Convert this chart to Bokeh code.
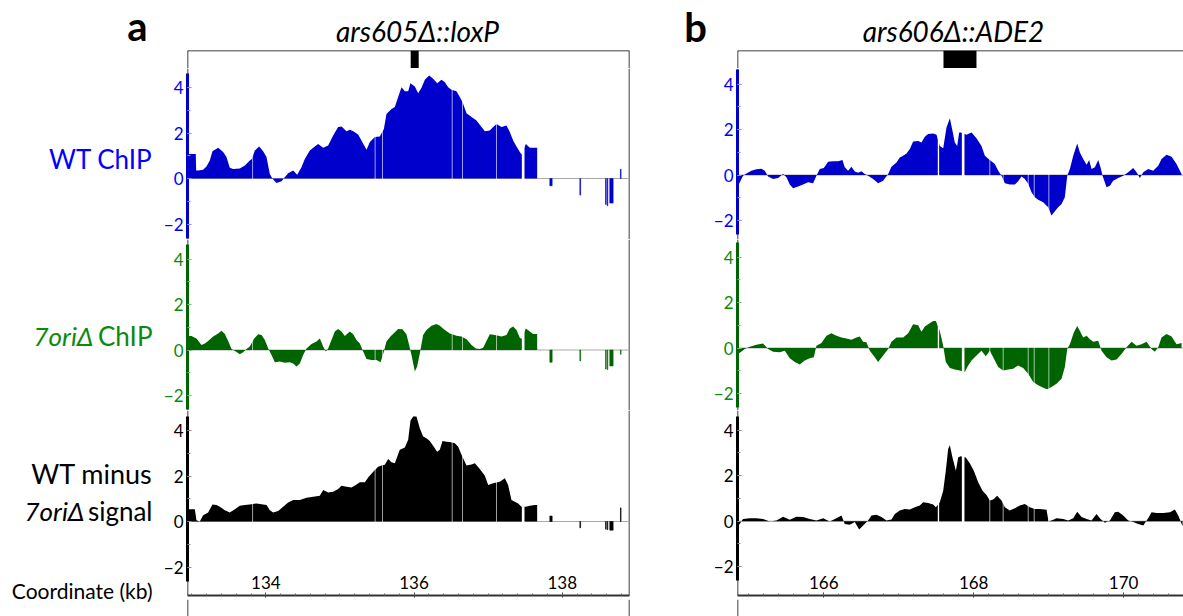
from bokeh.plotting import figure
from bokeh.layouts import row, column
from bokeh.models import Range1d, Span, Label, BoxAnnotation, SingleIntervalTicker
from bokeh.embed import file_html
from bokeh.resources import INLINE

# ---------------- data (kb, signal) ----------------
# panel a : ars605Δ::loxP
A_BLUE = [(132.952, 1.08), (133.055, 1.08), (133.060, 0.35), (133.087, 0.35), (133.154, 0.38), (133.199, 0.53),
          (133.244, 0.79), (133.280, 1.20), (133.357, 1.35), (133.424, 1.16), (133.469, 0.94), (133.514, 0.47),
          (133.559, 0.42), (133.649, 0.44), (133.717, 0.57), (133.784, 0.79), (133.811, 0.86), (133.852, 1.23),
          (133.910, 1.41), (133.964, 1.20), (134.009, 0.94), (134.054, 0.20), (134.090, -0.01), (134.144, -0.20),
          (134.212, -0.12), (134.256, 0.06), (134.301, 0.23), (134.369, 0.35), (134.423, 0.16), (134.481, 0.50),
          (134.526, 0.86), (134.594, 1.23), (134.661, 1.41), (134.706, 1.52), (134.774, 1.35), (134.841, 1.45),
          (134.909, 1.89), (134.976, 2.26), (135.021, 2.29), (135.089, 2.08), (135.134, 2.14), (135.179, 2.08),
          (135.246, 1.93), (135.291, 1.67), (135.359, 1.26), (135.404, 1.60), (135.471, 1.82), (135.538, 1.85),
          (135.593, 2.18), (135.628, 2.84), (135.696, 3.06), (135.741, 3.14), (135.786, 3.58), (135.831, 4.01),
          (135.876, 3.84), (135.921, 3.84), (135.952, 4.19), (136.011, 4.04), (136.056, 3.75), (136.101, 3.99),
          (136.146, 4.34), (136.204, 4.53), (136.258, 4.38), (136.312, 4.19), (136.371, 4.34), (136.416, 4.23),
          (136.461, 4.01), (136.506, 3.90), (136.573, 3.84), (136.618, 3.58), (136.654, 3.36), (136.708, 2.87),
          (136.776, 2.70), (136.843, 2.55), (136.911, 2.26), (136.956, 2.08), (137.023, 2.11), (137.068, 2.26),
          (137.113, 2.40), (137.181, 2.26), (137.248, 2.33), (137.293, 2.04), (137.338, 1.67), (137.383, 1.41),
          (137.428, 1.16), (137.450, 1.05), (137.509, 1.52), (137.563, 1.35), (137.630, 1.35), (137.662, 1.35)]
A_GREEN = [(132.952, 0.62), (132.997, 0.62), (133.064, 0.51), (133.132, 0.22), (133.177, 0.29), (133.222, 0.40),
           (133.289, 0.59), (133.357, 0.73), (133.402, 0.85), (133.447, 0.70), (133.492, 0.40), (133.537, 0.04),
           (133.595, -0.07), (133.649, -0.19), (133.694, -0.10), (133.739, 0.04), (133.784, 0.15), (133.843, 0.51),
           (133.897, 0.69), (133.942, 0.66), (133.987, 0.44), (134.032, 0.07), (134.077, -0.22), (134.122, -0.54),
           (134.189, -0.51), (134.256, -0.56), (134.324, -0.54), (134.369, -0.59), (134.414, -0.73), (134.459, -0.59),
           (134.504, -0.22), (134.549, 0.07), (134.616, 0.26), (134.684, 0.37), (134.729, 0.51), (134.774, 0.15),
           (134.810, -0.07), (134.841, 0.07), (134.886, 0.44), (134.931, 0.81), (134.976, 0.92), (135.021, 0.81),
           (135.066, 0.62), (135.134, 0.81), (135.179, 0.69), (135.224, 0.44), (135.269, 0.29), (135.314, -0.07),
           (135.359, -0.40), (135.426, -0.44), (135.494, -0.44), (135.548, -0.54), (135.583, -0.19), (135.628, 0.37),
           (135.682, 0.59), (135.741, 0.78), (135.786, 0.92), (135.844, 0.91), (135.898, 0.69), (135.934, 0.22),
           (135.966, -0.22), (136.011, -0.95), (136.042, -0.73), (136.078, -0.15), (136.123, 0.66), (136.168, 0.88),
           (136.236, 1.07), (136.303, 1.14), (136.348, 1.07), (136.416, 0.88), (136.483, 0.73), (136.573, 0.63),
           (136.641, 0.59), (136.708, 0.47), (136.776, 0.22), (136.834, 0.07), (136.888, 0.04), (136.933, 0.10),
           (136.978, 0.40), (137.023, 0.69), (137.090, 0.66), (137.181, 0.59), (137.248, 0.66), (137.293, 0.95),
           (137.338, 1.03), (137.383, 0.88), (137.428, 0.54), (137.450, 0.48), (137.509, 0.95), (137.563, 0.81),
           (137.608, 0.70), (137.662, 0.70)]
A_BLACK = [(132.952, 0.54), (133.042, 0.54), (133.064, 0.06), (133.109, 0.00), (133.154, 0.28), (133.222, 0.40),
           (133.280, 0.75), (133.334, 0.72), (133.379, 0.65), (133.447, 0.50), (133.514, 0.40), (133.582, 0.54),
           (133.649, 0.69), (133.717, 0.72), (133.784, 0.75), (133.874, 0.79), (133.942, 0.76), (134.009, 0.72),
           (134.054, 0.50), (134.099, 0.40), (134.167, 0.46), (134.234, 0.65), (134.301, 0.84), (134.369, 0.94),
           (134.459, 0.94), (134.549, 1.04), (134.639, 1.09), (134.729, 1.13), (134.774, 1.38), (134.841, 1.28),
           (134.909, 1.31), (134.976, 1.43), (135.021, 1.57), (135.089, 1.53), (135.156, 1.49), (135.224, 1.63),
           (135.269, 1.72), (135.336, 1.72), (135.381, 1.93), (135.449, 2.19), (135.516, 2.41), (135.561, 2.46),
           (135.606, 2.49), (135.651, 2.75), (135.696, 2.60), (135.741, 2.56), (135.808, 3.15), (135.876, 3.25),
           (135.921, 3.59), (135.952, 4.43), (135.988, 4.62), (136.033, 4.62), (136.078, 4.10), (136.123, 3.74),
           (136.168, 3.66), (136.213, 3.54), (136.267, 3.29), (136.312, 3.07), (136.348, 3.15), (136.384, 3.54),
           (136.438, 3.51), (136.483, 3.49), (136.551, 3.44), (136.596, 3.29), (136.641, 2.93), (136.708, 2.46),
           (136.776, 2.51), (136.821, 2.56), (136.888, 2.31), (136.956, 2.01), (137.001, 1.60), (137.068, 1.68),
           (137.158, 1.75), (137.226, 1.90), (137.270, 1.60), (137.315, 0.94), (137.360, 0.87), (137.405, 0.79),
           (137.450, 0.65), (137.509, 0.65), (137.563, 0.69), (137.630, 0.72), (137.662, 0.72)]
A_TAIL_START = [137.833, 138.238, 138.585, 138.607, 138.642, 138.786]
A_TAIL_END = [137.864, 138.248, 138.593, 138.615, 138.687, 138.794]
A_TAIL_BLUE = [-0.32, -0.73, -1.14, -1.20, -1.08, 0.41]
A_TAIL_GREEN = [-0.54, -0.48, -0.84, -0.86, -0.70, -0.19]
A_TAIL_BLACK = [0.24, -0.28, -0.34, -0.36, -0.38, 0.60]
A_GAP_START = [133.816, 135.469, 135.569, 136.509, 136.648, 137.107, 137.455]
A_GAP_END = [133.828, 135.481, 135.581, 136.521, 136.660, 137.119, 137.491]
A_ARS = (135.955, 136.063)

# panel b : ars606Δ::ADE2
B_BLUE = [(164.857, -0.47), (164.923, -0.03), (164.968, 0.07), (165.035, 0.19), (165.101, 0.25), (165.168, 0.28),
          (165.213, 0.19), (165.257, -0.07), (165.324, -0.18), (165.391, -0.13), (165.457, 0.04), (165.502, -0.10),
          (165.546, -0.42), (165.591, -0.58), (165.657, -0.51), (165.724, -0.42), (165.791, -0.32), (165.858, -0.36),
          (165.902, -0.03), (165.947, 0.26), (166.000, 0.31), (166.058, 0.58), (166.125, 0.60), (166.191, 0.60),
          (166.249, 0.66), (166.280, 0.34), (166.325, 0.19), (166.369, 0.36), (166.414, 0.15), (166.458, 0.10),
          (166.503, 0.16), (166.547, 0.04), (166.592, -0.03), (166.658, -0.18), (166.725, -0.36), (166.792, -0.25),
          (166.859, 0.04), (166.903, 0.36), (166.970, 0.55), (167.014, 0.77), (167.059, 0.85), (167.103, 0.95),
          (167.148, 1.14), (167.192, 1.47), (167.259, 1.50), (167.303, 1.43), (167.348, 1.68), (167.392, 1.80),
          (167.459, 1.82), (167.504, 1.77), (167.548, 1.28), (167.593, 1.18), (167.637, 2.09), (167.682, 2.50),
          (167.717, 1.94), (167.748, 1.43), (167.780, 1.28), (167.806, 1.87), (167.829, 1.87), (167.904, 1.77),
          (167.971, 1.87), (168.037, 1.62), (168.104, 1.28), (168.149, 0.85), (168.215, 0.66), (168.282, 0.48),
          (168.327, 0.19), (168.371, -0.03), (168.416, -0.36), (168.482, -0.42), (168.549, -0.42), (168.593, -0.28),
          (168.638, -0.07), (168.682, -0.18), (168.727, -0.39), (168.771, -0.76), (168.816, -0.98), (168.860, -1.09),
          (168.927, -1.20), (168.994, -1.42), (169.038, -1.78), (169.083, -1.59), (169.127, -1.42), (169.172, -1.27),
          (169.216, -0.98), (169.248, -0.03), (169.283, 0.26), (169.328, 0.85), (169.381, 1.39), (169.417, 0.99),
          (169.461, 0.70), (169.506, 0.45), (169.541, 0.66), (169.572, 0.26), (169.617, 0.34), (169.661, 0.66),
          (169.692, 0.34), (169.719, -0.03), (169.772, -0.54), (169.817, -0.47), (169.861, -0.25), (169.928, -0.13),
          (169.995, -0.03), (170.061, 0.12), (170.128, 0.31), (170.173, 0.12), (170.217, -0.13), (170.262, 0.12),
          (170.328, 0.26), (170.395, 0.19), (170.462, 0.41), (170.506, 0.70), (170.573, 0.89), (170.640, 0.80),
          (170.706, 0.48), (170.773, 0.04)]
B_GREEN = [(164.857, -0.26), (164.946, -0.04), (165.012, 0.06), (165.101, 0.14), (165.190, 0.20), (165.257, -0.04),
           (165.324, -0.16), (165.413, -0.19), (165.480, -0.12), (165.546, -0.45), (165.613, -0.62), (165.680, -0.72),
           (165.746, -0.55), (165.813, -0.45), (165.867, -0.41), (165.902, 0.10), (165.969, 0.22), (166.036, 0.54),
           (166.102, 0.65), (166.169, 0.54), (166.236, 0.46), (166.302, 0.42), (166.369, 0.36), (166.436, 0.46),
           (166.480, 0.51), (166.525, 0.28), (166.569, 0.25), (166.614, -0.12), (166.681, -0.41), (166.725, -0.62),
           (166.792, -0.33), (166.859, -0.04), (166.903, 0.28), (166.970, 0.46), (167.059, 0.46), (167.126, 0.65),
           (167.192, 1.04), (167.259, 1.00), (167.303, 0.71), (167.348, 0.94), (167.392, 1.04), (167.459, 1.19),
           (167.495, 1.19), (167.548, 0.75), (167.593, 0.10), (167.628, -0.62), (167.682, -0.88), (167.748, -0.94),
           (167.815, -0.99), (167.882, -1.06), (167.926, -0.77), (167.971, -0.55), (168.037, -0.33), (168.104, -0.12),
           (168.162, -0.36), (168.215, -0.12), (168.260, -0.41), (168.327, -0.84), (168.393, -0.99), (168.460, -0.94),
           (168.527, -0.91), (168.593, -0.77), (168.660, -0.88), (168.727, -1.13), (168.794, -1.49), (168.860, -1.64),
           (168.927, -1.75), (168.981, -1.81), (169.038, -1.71), (169.105, -1.57), (169.172, -1.35), (169.216, -0.84),
           (169.248, -0.04), (169.283, 0.17), (169.336, 0.68), (169.381, 0.97), (169.417, 0.75), (169.461, 0.46),
           (169.506, 0.54), (169.550, 0.39), (169.595, 0.28), (169.661, 0.32), (169.706, -0.12), (169.772, -0.41),
           (169.839, -0.55), (169.906, -0.51), (169.972, -0.26), (170.039, 0.03), (170.106, 0.28), (170.173, 0.10),
           (170.239, 0.17), (170.306, 0.28), (170.373, -0.04), (170.417, -0.16), (170.462, 0.03), (170.506, 0.46),
           (170.573, 0.61), (170.640, 0.51), (170.706, 0.17), (170.773, 0.22)]
B_BLACK = [(164.857, -0.22), (164.923, 0.10), (165.012, 0.13), (165.101, 0.13), (165.190, 0.10), (165.279, -0.01),
           (165.368, 0.03), (165.457, 0.20), (165.546, 0.06), (165.635, 0.20), (165.724, 0.18), (165.813, 0.10),
           (165.902, 0.03), (165.991, 0.13), (166.080, -0.01), (166.169, 0.13), (166.236, 0.25), (166.280, -0.12),
           (166.347, -0.16), (166.414, -0.04), (166.472, -0.36), (166.525, -0.19), (166.592, 0.03), (166.636, 0.25),
           (166.703, 0.28), (166.770, 0.18), (166.836, 0.03), (166.903, 0.07), (166.948, 0.32), (167.014, 0.47),
           (167.081, 0.54), (167.148, 0.51), (167.215, 0.61), (167.281, 0.69), (167.326, 0.83), (167.392, 0.80),
           (167.459, 0.73), (167.495, 0.61), (167.548, 0.83), (167.593, 1.34), (167.628, 2.22), (167.659, 3.17),
           (167.682, 3.34), (167.717, 2.80), (167.762, 2.22), (167.793, 2.80), (167.824, 2.85), (167.895, 2.80),
           (167.948, 2.55), (168.002, 2.22), (168.060, 1.71), (168.118, 1.34), (168.171, 1.15), (168.215, 0.91),
           (168.260, 0.95), (168.313, 1.12), (168.371, 0.91), (168.416, 0.61), (168.482, 0.47), (168.549, 0.57),
           (168.616, 0.69), (168.682, 0.76), (168.749, 0.61), (168.816, 0.54), (168.883, 0.54), (168.972, 0.50),
           (168.998, 0.00), (169.038, 0.03), (169.105, 0.13), (169.194, 0.10), (169.261, 0.03), (169.328, 0.13),
           (169.381, 0.42), (169.439, 0.18), (169.506, 0.10), (169.572, 0.03), (169.639, 0.32), (169.692, 0.10),
           (169.750, -0.07), (169.817, 0.03), (169.883, 0.39), (169.928, 0.42), (169.995, 0.25), (170.061, 0.03),
           (170.128, -0.04), (170.195, -0.12), (170.262, -0.19), (170.328, 0.13), (170.373, 0.39), (170.440, 0.36),
           (170.529, 0.36), (170.618, 0.39), (170.684, 0.51), (170.729, 0.25), (170.787, -0.22)]
B_GAP_START = [167.521, 167.842, 168.209, 168.387, 168.721, 168.801, 168.997]
B_GAP_END = [167.539, 167.877, 168.221, 168.399, 168.733, 168.813, 169.009]
B_ARS = (167.597, 168.037)

TITLES = ["ars605Δ::loxP", "ars606Δ::ADE2"]
PANEL_LETTERS = ["a", "b"]

# ---------------- layout / style ----------------
FONT = "Lato"
PX_PER_UNIT = 22.75
LABEL_W, A_W, B_W = 155, 550, 478
A_BL, A_BR, B_BL, B_BR = 32, 76, 32, 0
HEADER_H, MARK_H, BLUE_H, GREEN_H = 50, 18, 171, 171
BLACK_FRAME_H, BLACK_BB, FILL_H = 185, 4, 17
XA = Range1d(132.943, 138.908)
XB = Range1d(164.849, 170.799)
BAR_BOUNDS = (-2.62, 4.62)

BLUE_FILL, GREEN_FILL, BLACK_FILL = "#0000cc", "#006400", "#000000"
BLUE_TXT, GREEN_TXT, BLACK_TXT = "#0000ff", "#0b8a0b", "#000000"
BLUE_TICK, GREEN_TICK, BLACK_TICK = "#8c8cff", "#7fb57f", "#8c8c8c"


def base(width, height, xr, yr, bl, br, bt=0, bb=0, xloc=None, yloc=None):
    p = figure(width=width, height=height, x_range=xr, y_range=yr,
               output_backend="svg", toolbar_location=None, tools="",
               min_border_left=bl, min_border_right=br, min_border_top=bt, min_border_bottom=bb,
               x_axis_location=xloc, y_axis_location=yloc)
    p.grid.visible = False
    p.outline_line_color = None
    p.background_fill_color = "white"
    p.border_fill_color = "white"
    return p


def edges(p, xr, right, top=False):
    p.add_layout(Span(location=xr.start, dimension="height", line_color="black",
                      line_width=1.5, level="underlay"))
    if right:
        p.add_layout(Span(location=xr.end, dimension="height", line_color="black",
                          line_width=1.5, level="underlay"))
    if top:
        p.add_layout(Span(location=p.y_range.end, dimension="width", line_color="black",
                          line_width=1.5, level="underlay"))


def marker(xr, w, bl, br, ars, right):
    p = base(w, MARK_H, xr, Range1d(0, 1), bl, br)
    edges(p, xr, right, top=True)
    p.quad(left=[ars[0]], right=[ars[1]], bottom=0, top=1, fill_color="black", line_color=None)
    return p


def filler(xr, w, bl, br, right):
    p = base(w, FILL_H, xr, Range1d(0, 1), bl, br)
    edges(p, xr, right)
    return p


def track(xr, w, bl, br, frame_h, zero_px, pts, fill, txt, tick, gs, ge, right, tail=None, coord=False):
    yr = Range1d(-(frame_h - zero_px) / PX_PER_UNIT, zero_px / PX_PER_UNIT)
    bb = BLACK_BB if coord else 0
    p = base(w, frame_h + bb, xr, yr, bl, br, bb=bb, yloc="left", xloc="below" if coord else None)
    edges(p, xr, right)
    p.add_layout(Span(location=0, dimension="width", line_color="#a8a8a8", line_width=1, level="underlay"))
    xs, ys = zip(*pts)
    p.varea(x=list(xs), y1=0, y2=list(ys), fill_color=fill)
    if tail is not None:
        p.quad(left=tail[0], right=tail[1], bottom=0, top=tail[2],
               fill_color=fill, line_color=fill, line_width=0.6)
    lo, hi = min(0, min(ys)) - 0.15, max(ys) + 0.15
    for s, e in zip(gs, ge):
        p.add_layout(BoxAnnotation(left=s, right=e, bottom=lo, top=hi, fill_color="white",
                                   fill_alpha=1.0 if e - s > 0.015 else 0.7, line_color=None))
    ax = p.yaxis[0]
    ax.bounds = BAR_BOUNDS
    ax.ticker = SingleIntervalTicker(interval=2, num_minor_ticks=2)
    ax.axis_line_color = fill
    ax.axis_line_width = 3
    ax.major_tick_in, ax.major_tick_out = 4, 0
    ax.minor_tick_in, ax.minor_tick_out = 3, 0
    ax.major_tick_line_color = tick
    ax.minor_tick_line_color = tick
    ax.major_label_text_color = txt
    ax.major_label_text_font = FONT
    ax.major_label_text_font_size = "17px"
    ax.major_label_standoff = 4
    if coord:
        cx = p.xaxis[0]
        cx.ticker = SingleIntervalTicker(interval=2, num_minor_ticks=10)
        cx.axis_line_color = "#333333"
        cx.axis_line_width = 2
        cx.major_tick_in, cx.major_tick_out = 3, 2
        cx.minor_tick_in, cx.minor_tick_out = 2, 0
        cx.major_tick_line_color = "#333333"
        cx.minor_tick_line_color = "#666666"
        cx.major_label_text_font = FONT
        cx.major_label_text_font_size = "17px"
        cx.major_label_text_color = "black"
        cx.major_label_standoff = -22
    return p


def txt(p, x, y, s, color, size, style="normal", align="right"):
    p.add_layout(Label(x=x, y=y, text=s, text_color=color, text_font=FONT, text_font_size=size,
                       text_font_style=style, text_align=align, text_baseline="middle"))


# panel a column
col_a = column(
    marker(XA, A_W, A_BL, A_BR, A_ARS, True),
    track(XA, A_W, A_BL, A_BR, BLUE_H, 110, A_BLUE, BLUE_FILL, BLUE_TXT, BLUE_TICK,
          A_GAP_START, A_GAP_END, True, (A_TAIL_START, A_TAIL_END, A_TAIL_BLUE)),
    track(XA, A_W, A_BL, A_BR, GREEN_H, 110.5, A_GREEN, GREEN_FILL, GREEN_TXT, GREEN_TICK,
          A_GAP_START, A_GAP_END, True, (A_TAIL_START, A_TAIL_END, A_TAIL_GREEN)),
    track(XA, A_W, A_BL, A_BR, BLACK_FRAME_H, 111, A_BLACK, BLACK_FILL, BLACK_TXT, BLACK_TICK,
          A_GAP_START, A_GAP_END, True, (A_TAIL_START, A_TAIL_END, A_TAIL_BLACK), coord=True),
    filler(XA, A_W, A_BL, A_BR, True),
)
# panel b column
col_b = column(
    marker(XB, B_W, B_BL, B_BR, B_ARS, False),
    track(XB, B_W, B_BL, B_BR, BLUE_H, 106.5, B_BLUE, BLUE_FILL, BLUE_TXT, BLUE_TICK,
          B_GAP_START, B_GAP_END, False),
    track(XB, B_W, B_BL, B_BR, GREEN_H, 108.5, B_GREEN, GREEN_FILL, GREEN_TXT, GREEN_TICK,
          B_GAP_START, B_GAP_END, False),
    track(XB, B_W, B_BL, B_BR, BLACK_FRAME_H, 110.7, B_BLACK, BLACK_FILL, BLACK_TXT, BLACK_TICK,
          B_GAP_START, B_GAP_END, False, coord=True),
    filler(XB, B_W, B_BL, B_BR, False),
)

# left labels (coordinates: pixels from the column's top-left)
LAB_H = 616 - HEADER_H
lab = base(LABEL_W, LAB_H, Range1d(0, LABEL_W), Range1d(LAB_H, 0), 0, 0)
txt(lab, 152, 108, "WT ChIP", BLUE_TXT, "26px")
txt(lab, 152, 285, "ChIP", GREEN_TXT, "26px")
txt(lab, 93, 285, "7oriΔ", GREEN_TXT, "26px", "italic")
txt(lab, 152, 423, "WT minus", BLACK_TXT, "27px")
txt(lab, 152, 460, "signal", BLACK_TXT, "26px")
txt(lab, 84, 460, "7oriΔ", BLACK_TXT, "26px", "italic")
txt(lab, 152, 540, "Coordinate (kb)", BLACK_TXT, "21px")

# header
HDR_W = LABEL_W + A_W + B_W
hdr = base(HDR_W, HEADER_H, Range1d(0, HDR_W), Range1d(HEADER_H, 0), 0, 0)
txt(hdr, 137, 25, PANEL_LETTERS[0], "black", "40px", "bold", "center")
txt(hdr, 695, 26, PANEL_LETTERS[1], "black", "40px", "bold", "center")
txt(hdr, 417, 30, TITLES[0], "black", "28px", "italic", "center")
txt(hdr, 953, 30, TITLES[1], "black", "28px", "italic", "center")

layout = column(hdr, row(lab, col_a, col_b))
open("out.html", "w", encoding="utf-8").write(file_html(layout, INLINE))
